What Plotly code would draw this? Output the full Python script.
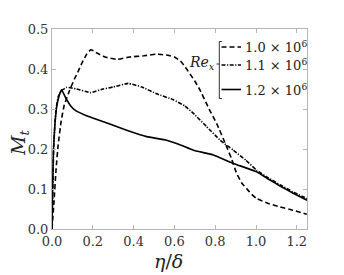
import plotly.graph_objects as go

# Re_x = 1.0e6 (dashed)
x_a = [0.0, 0.01, 0.02, 0.03, 0.045, 0.06, 0.085, 0.11, 0.13, 0.146, 0.17, 0.19, 0.205, 0.22, 0.26,
       0.32, 0.38, 0.45, 0.51, 0.56, 0.6, 0.63, 0.65, 0.7, 0.725, 0.77, 0.807, 0.856, 0.88, 0.905,
       0.93, 0.954, 0.98, 1.003, 1.06, 1.118, 1.18, 1.249]
y_a = [0.0, 0.07, 0.15, 0.21, 0.27, 0.31, 0.345, 0.375, 0.396, 0.414, 0.437, 0.448, 0.445, 0.44,
       0.43, 0.424, 0.43, 0.433, 0.437, 0.435, 0.43, 0.42, 0.407, 0.37, 0.348, 0.30, 0.264, 0.206,
       0.176, 0.139, 0.115, 0.101, 0.086, 0.076, 0.064, 0.055, 0.047, 0.037]
# Re_x = 1.1e6 (dash-dot)
x_b = [0.0, 0.004, 0.008, 0.014, 0.02, 0.03, 0.045, 0.072, 0.12, 0.19, 0.25, 0.3, 0.374, 0.44,
       0.513, 0.595, 0.65, 0.693, 0.758, 0.824, 0.889, 0.95, 1.003, 1.06, 1.12, 1.18, 1.25]
y_b = [0.0, 0.1, 0.2, 0.26, 0.3, 0.33, 0.345, 0.354, 0.35, 0.341, 0.35, 0.355, 0.364, 0.355,
       0.338, 0.323, 0.308, 0.289, 0.256, 0.222, 0.197, 0.172, 0.147, 0.128, 0.11, 0.093, 0.076]
# Re_x = 1.2e6 (solid)
x_c = [0.0, 0.003, 0.007, 0.014, 0.023, 0.036, 0.047, 0.07, 0.09, 0.113, 0.16, 0.203, 0.28, 0.366,
       0.464, 0.562, 0.63, 0.693, 0.791, 0.889, 1.003, 1.06, 1.12, 1.18, 1.25]
y_c = [0.0, 0.1, 0.197, 0.26, 0.306, 0.335, 0.348, 0.325, 0.309, 0.297, 0.285, 0.277, 0.263, 0.247,
       0.231, 0.222, 0.21, 0.197, 0.185, 0.164, 0.143, 0.125, 0.107, 0.09, 0.072]

labels = ["1.0 × 10<sup>6</sup>", "1.1 × 10<sup>6</sup>", "1.2 × 10<sup>6</sup>"]
x_ticks = [0.0, 0.2, 0.4, 0.6, 0.8, 1.0, 1.2]
y_ticks = [0.0, 0.1, 0.2, 0.3, 0.4, 0.5]

dashes = ["5px,3px", "4px,1.5px,1.2px,1.5px", "solid"]
series = [(x_a, y_a), (x_b, y_b), (x_c, y_c)]

FONT = "DejaVu Serif"
OFF = 8  # default page body margin
W, H = 344 - OFF, 275 - OFF
# plot area in window pixels: left 52, right 307, top 29, bottom 229
ML, MT = 52 - OFF, 29 - OFF
MR, MB = W - (307 - OFF), H - (229 - OFF)
PW, PH = W - ML - MR, H - MT - MB

def px2paper(px, py):
    # window pixel -> paper coords
    return (px - OFF - ML) / PW, (H - MB - (py - OFF)) / PH

fig = go.Figure()
for (xs, ys), d, lab in zip(series, dashes, labels):
    fig.add_trace(go.Scatter(x=xs, y=ys, mode="lines", name=lab, showlegend=False,
                             line=dict(color="black", width=1.6, dash=d, shape="spline", smoothing=0.3)))

shapes = []
annotations = []
# custom legend
row_y = [47, 65, 89.5]
for d, lab, ry in zip(dashes, labels, row_y):
    x0, y0 = px2paper(221.5, ry)
    x1, _ = px2paper(241, ry)
    shapes.append(dict(type="line", xref="paper", yref="paper", x0=x0, x1=x1, y0=y0, y1=y0,
                       line=dict(color="black", width=1.6, dash=d)))
    tx, ty = px2paper(243, ry)
    annotations.append(dict(xref="paper", yref="paper", x=tx, y=ty, text=lab, showarrow=False,
                            xanchor="left", yanchor="middle", font=dict(family=FONT, size=13, color="#222")))
# bracket
bx, btop = px2paper(219.3, 41.5)
_, bbot = px2paper(219.3, 98.5)
bxr, _ = px2paper(222, 0)
bxl, bmid = px2paper(216.5, 64)
for seg in [(bx, btop, bx, bbot), (bx, btop, bxr, btop), (bx, bbot, bxr, bbot), (bxl, bmid, bx, bmid)]:
    shapes.append(dict(type="line", xref="paper", yref="paper", x0=seg[0], y0=seg[1], x1=seg[2], y1=seg[3],
                       line=dict(color="#333", width=1)))
rx, ry_ = px2paper(216.5, 63)
annotations.append(dict(xref="paper", yref="paper", x=rx, y=ry_, text="<i>Re<sub>x</sub></i>",
                        showarrow=False, xanchor="right", yanchor="middle",
                        font=dict(family=FONT, size=14, color="#222")))
# axis titles
tx, ty = px2paper(168, 261)
annotations.append(dict(xref="paper", yref="paper", x=tx, y=ty, text="<i>η</i>/<i>δ</i>",
                        showarrow=False, xanchor="center", yanchor="middle",
                        font=dict(family=FONT, size=19, color="#222")))
tx, ty = px2paper(19, 143)
annotations.append(dict(xref="paper", yref="paper", x=tx, y=ty, text="<i>M<sub>t</sub></i>",
                        showarrow=False, xanchor="center", yanchor="middle", textangle=-90,
                        font=dict(family=FONT, size=19, color="#222")))

axis_common = dict(showgrid=False, zeroline=False, showline=True, linecolor="#b5b5b5", linewidth=1,
                   mirror="ticks", ticks="inside", ticklen=4, tickcolor="#b5b5b5", tickwidth=1,
                   automargin=False,
                   tickformat=".1f", tickfont=dict(family=FONT, size=13, color="#333"))

fig.update_layout(
    width=W, height=H, margin=dict(l=ML, r=MR, t=MT, b=MB, autoexpand=False),
    paper_bgcolor="white", plot_bgcolor="white",
    shapes=shapes, annotations=annotations,
    xaxis=dict(range=[0, 1.25], tickvals=x_ticks, **axis_common),
    yaxis=dict(range=[0, 0.5], tickvals=y_ticks, **axis_common),
)
fig.write_html("out.html")
